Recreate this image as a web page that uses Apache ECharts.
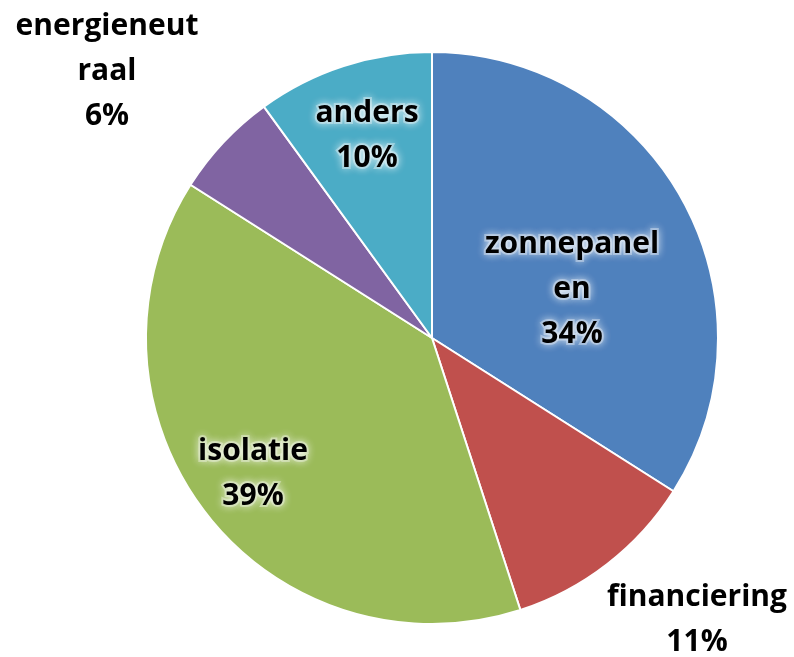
<!DOCTYPE html>
<html>
<head>
<meta charset="utf-8">
<script src="https://cdn.jsdelivr.net/npm/echarts@6/dist/echarts.min.js"></script>
<style>html,body{margin:0;padding:0;background:#fff;}#c{width:794px;height:657px;}</style>
</head>
<body>
<div id="c"></div>
<script>
const categories = ['zonnepanel\nen', 'financiering', 'isolatie', 'energieneut\nraal', 'anders'];
const values = [34, 11, 39, 6, 10];
const colors = ['#4F81BD', '#C0504D', '#9BBB59', '#8064A2', '#4BACC6'];
const labelPos = [[572, 289], [697, 620], [253, 474], [107, 71], [367, 136]];
const insideLabel = [true, false, true, false, true];

const chart = echarts.init(document.getElementById('c'), null, {renderer: 'canvas'});
chart.setOption({
  backgroundColor: '#ffffff',
  animation: false,
  series: [{
    type: 'pie',
    center: [432, 338],
    radius: [0, 286],
    startAngle: 90,
    clockwise: true,
    itemStyle: {borderColor: '#ffffff', borderWidth: 2},
    labelLine: {show: false},
    label: {
      show: true,
      position: 'inside',
      formatter: p => p.name + '\n' + p.value + '%',
      fontFamily: 'Open Sans',
      fontWeight: 'bold',
      fontSize: 30,
      lineHeight: 45,
      color: '#000000',
      align: 'center',
      textBorderWidth: 0,
      textShadowBlur: 0
    },
    labelLayout: function (params) {
      const p = labelPos[params.dataIndex];
      return {x: p[0], y: p[1], align: 'center', verticalAlign: 'middle'};
    },
    data: categories.map((n, i) => ({
      name: n,
      value: values[i],
      itemStyle: {color: colors[i]},
      label: insideLabel[i]
        ? {textBorderColor: 'rgba(255,255,255,0.35)', textBorderWidth: 4,
           textShadowColor: 'rgba(255,255,255,0.9)', textShadowBlur: 8,
           textShadowOffsetX: 0, textShadowOffsetY: 0}
        : {}
    }))
  }]
});
</script>
</body>
</html>
